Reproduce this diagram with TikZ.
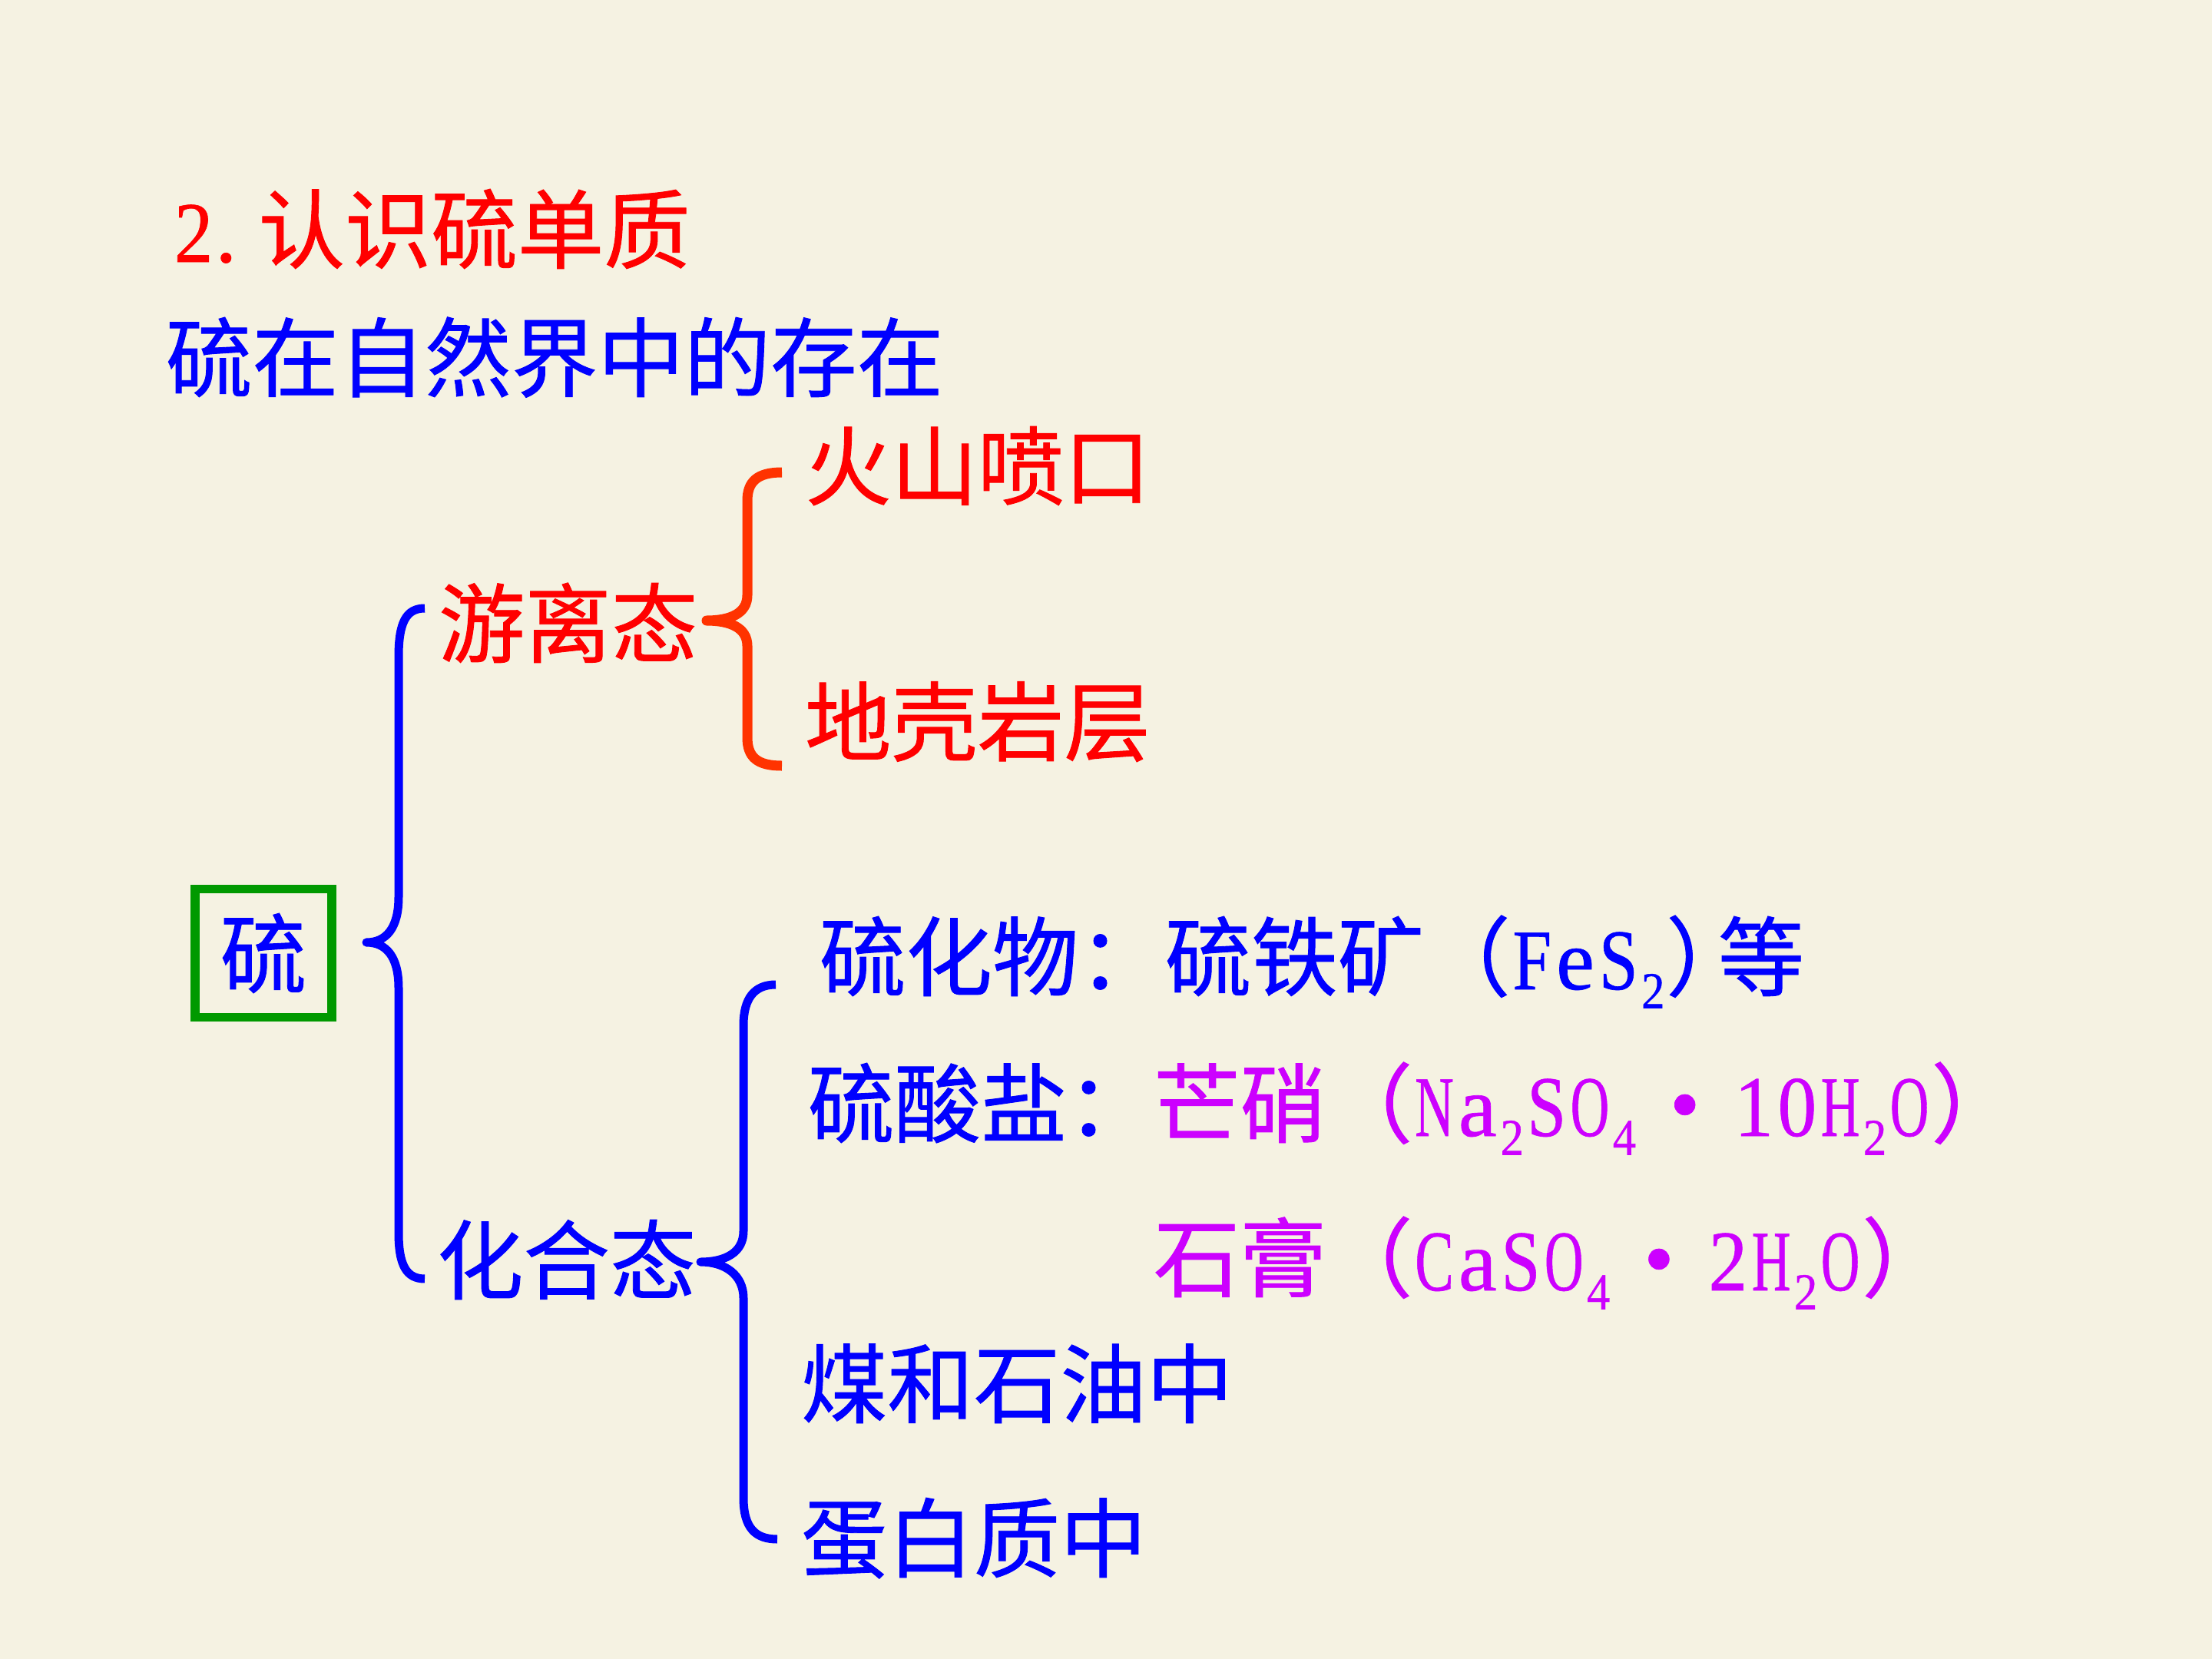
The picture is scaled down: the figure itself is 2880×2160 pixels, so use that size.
\documentclass[tikz,border=0pt]{standalone}
\usepackage{fontspec}
\usepackage{graphicx}
\setmainfont[FakeBold=0.6]{Liberation Serif}
\newfontfamily\cjk[FakeBold=0.8]{Noto Sans CJK SC}
% half-width monospaced Latin, as in the reference
\newcommand\monochar[1]{\setbox0\hbox{#1}%
  \ifdim\wd0>0.45em \makebox[0.5em][c]{\resizebox{0.45em}{\height}{#1}}%
  \else\makebox[0.5em][c]{#1}\fi}
\newcommand\mono[1]{\monoi#1\relax}
\def\monoi#1{\ifx#1\relax\else\monochar{#1}\expandafter\monoi\fi}
\newcommand\dn[1]{\raisebox{-0.22em}{\fontsize{19.2pt}{19.2pt}\selectfont\mono{#1}}}
\newcommand\mdot{\makebox[1.1em][c]{\raisebox{0.03em}{•}}}
\newcommand\rp{\makebox[0.6em][l]{\cjk ）}}
\definecolor{bgc}{RGB}{245,242,226}
\definecolor{tred}{RGB}{255,0,0}
\definecolor{tblue}{RGB}{0,0,255}
\definecolor{tmag}{RGB}{204,0,255}
\definecolor{bred}{RGB}{255,51,0}
\definecolor{bgreen}{RGB}{0,153,0}
\tikzset{
  txt/.style={anchor=base west, inner sep=0pt, outer sep=0pt, font=\fontsize{32pt}{36pt}\selectfont},
  bluebr/.style={draw=tblue, line width=1.1mm, line join=round},
  redbr/.style={draw=bred, line width=1.3mm, line join=round},
}
\begin{document}
\begin{tikzpicture}[x=0.1mm, y=-0.1mm]
\fill[bgc] (0,0) rectangle (2880,2160);
\useasboundingbox (0,0) rectangle (2880,2160);

% headings
\node[txt, text=tred] (title) at (224,341) {\mono{2}\makebox[0.5em][l]{.}{\cjk 认识硫单质}};
\node[txt, text=tblue] (head) at (216,508) {\cjk 硫在自然界中的存在};

% root
\node[draw=bgreen, line width=1.15mm, minimum width=17.8mm, minimum height=16.7mm,
      inner sep=0pt, text=tblue, font=\fontsize{32pt}{36pt}\selectfont\cjk] (root) at (343,1241) {硫};

% level 1
\node[txt, text=tred] (free) at (571,854) {\cjk 游离态};
\node[txt, text=tblue] (comb) at (569,1683) {\cjk 化合态};

% free-state items
\node[txt, text=tred] (volc) at (1048,649) {\cjk 火山喷口};
\node[txt, text=tred] (crust) at (1048,982) {\cjk 地壳岩层};

% combined-state items
\node[txt, text=tblue] (sulfide) at (1067,1288) {{\cjk 硫化物：硫铁矿（}\mono{FeS}\dn{2}\rp{\cjk 等}};
\node[txt, text=tblue] (sulfate) at (1052,1479) {\cjk 硫酸盐：};
\node[txt, text=tmag] (glauber) at (1502,1479) {{\cjk 芒硝（}\mono{Na}\dn{2}\mono{SO}\dn{4}\mdot\mono{10H}\dn{2}\mono{O}\rp};
\node[txt, text=tmag] (gypsum) at (1502,1680) {{\cjk 石膏（}\mono{CaSO}\dn{4}\mdot\mono{2H}\dn{2}\mono{O}\rp};
\node[txt, text=tblue] (coal) at (1043,1844) {\cjk 煤和石油中};
\node[txt, text=tblue] (protein) at (1043,2045) {\cjk 蛋白质中};

% brace coordinates
\coordinate (b1t) at (553,792);
\coordinate (b1p) at (477,1227);
\coordinate (b1b) at (553,1665);
\coordinate (r1t) at (1018,615);
\coordinate (r1p) at (920,808);
\coordinate (r1b) at (1018,997);
\coordinate (b2t) at (1010,1282);
\coordinate (b2p) at (912,1643);
\coordinate (b2b) at (1012,2004);

% big blue brace: root -> free / combined
\draw[bluebr] (b1t) .. controls +(-24,0) and +(0,-45) .. (519,855) -- (519,1168)
  .. controls +(0,40) and +(26,0) .. (b1p)
  .. controls +(26,0) and +(0,-40) .. (519,1286) -- (519,1605)
  .. controls +(0,42) and +(-24,0) .. (b1b);

% red brace: free -> volcano / crust
\draw[redbr] (r1t) .. controls +(-32,0) and +(0,-25) .. (973,652) -- (973,775)
  .. controls +(0,24) and +(30,0) .. (r1p)
  .. controls +(30,0) and +(0,-24) .. (973,841) -- (973,960)
  .. controls +(0,26) and +(-32,0) .. (r1b);

% second blue brace: combined -> items
\draw[bluebr] (b2t) .. controls +(-28,0) and +(0,-35) .. (968,1335) -- (968,1603)
  .. controls +(0,28) and +(32,0) .. (b2p)
  .. controls +(32,0) and +(0,-30) .. (968,1690) -- (968,1950)
  .. controls +(0,40) and +(-28,0) .. (b2b);
\end{tikzpicture}
\end{document}
